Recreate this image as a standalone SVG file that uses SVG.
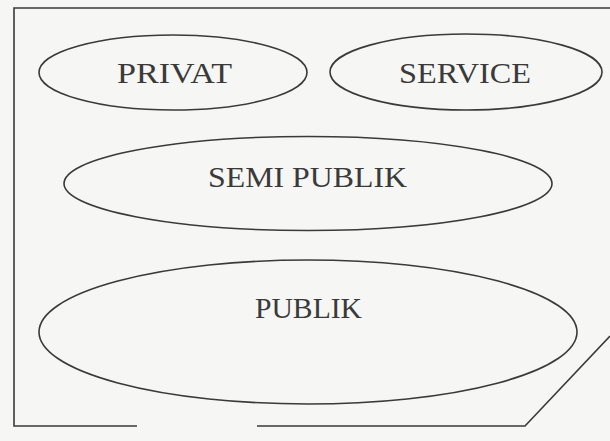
<svg xmlns="http://www.w3.org/2000/svg" width="610" height="441" viewBox="0 0 610 441">
<style>
.ln{fill:none;stroke:#3a3a3a;stroke-width:1.6;stroke-linejoin:miter}
.el{fill:none;stroke:#3a3a3a;stroke-width:1.6}
.tx{font-family:"Liberation Serif","Times New Roman",serif;font-size:30px;fill:#3a3a3a;text-anchor:middle}
</style>
<rect x="0" y="0" width="610" height="441" fill="#f6f6f4"/>
<g id="frame">
<path class="ln" d="M610,8 L14,8 L14,426 L137,426"/>
<path class="ln" d="M257,426 L525,426 L610,336"/>
</g>
<g id="privat">
<ellipse class="el" cx="173" cy="72.5" rx="134" ry="37.5"/>
<text class="tx" x="174.5" y="83" textLength="115" lengthAdjust="spacingAndGlyphs">PRIVAT</text>
</g>
<g id="service">
<ellipse class="el" cx="466" cy="72" rx="136" ry="38"/>
<text class="tx" x="465" y="83" textLength="132" lengthAdjust="spacingAndGlyphs">SERVICE</text>
</g>
<g id="semi-publik">
<ellipse class="el" cx="308" cy="183.5" rx="244" ry="47"/>
<text class="tx" x="307.5" y="187" textLength="199" lengthAdjust="spacingAndGlyphs">SEMI PUBLIK</text>
</g>
<g id="publik">
<ellipse class="el" cx="308" cy="332" rx="269" ry="72"/>
<text class="tx" x="308.5" y="318" textLength="107" lengthAdjust="spacingAndGlyphs">PUBLIK</text>
</g>
<g id="connectors"></g>
</svg>
